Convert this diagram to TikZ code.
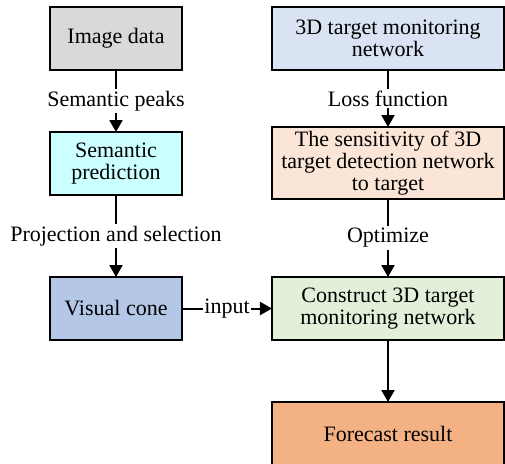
\documentclass[tikz,border=0pt]{standalone}
\usepackage{fontspec}
\setmainfont{Liberation Serif}
\usetikzlibrary{arrows.meta}
\definecolor{cgray}{HTML}{D9D9D9}
\definecolor{ccyan}{HTML}{CCFFFF}
\definecolor{cvis}{HTML}{B4C7E7}
\definecolor{cblue}{HTML}{DAE3F3}
\definecolor{cpeach}{HTML}{FBE5D6}
\definecolor{cgreen}{HTML}{E2F0D9}
\definecolor{corange}{HTML}{F4B183}
\tikzset{
  box/.style={draw=black, line width=1pt, inner sep=0pt, outer sep=0pt, align=center,
    font=\fontsize{11}{11}\selectfont},
  lbox/.style={box, minimum width=66pt, minimum height=31.5pt},
  rbox/.style={box, minimum width=116pt, minimum height=31.5pt},
  conn/.style={line width=1pt, -{Triangle[length=6pt,width=6.5pt]}},
  lab/.style={fill=white, inner sep=1pt, font=\fontsize{11}{11}\selectfont}
}
\begin{document}
\begin{tikzpicture}[x=0.5pt, y=-0.5pt]
\useasboundingbox (0,0) rectangle (505,463);
\begin{scope}
\clip (0,0) rectangle (505,463);
\node[lbox, fill=cgray] (img) at (116,38.5) {Image data};
\node[lbox, fill=ccyan] (sem) at (116,163.5) {Semantic\\prediction};
\node[lbox, fill=cvis] (vis) at (116,308.5) {Visual cone};
\node[rbox, fill=cblue] (net) at (388,38.5) {3D target monitoring\\network};
\node[rbox, fill=cpeach, minimum height=36pt] (sens) at (388,163) {The sensitivity of 3D\\target detection network\\to target};
\node[rbox, fill=cgreen] (cons) at (388,308.5) {Construct 3D target\\monitoring network};
\node[rbox, fill=corange] (fore) at (388,433.5) {Forecast result};
\end{scope}
\draw[conn] (img) -- node[lab] {Semantic peaks} (sem);
\draw[conn] (sem) -- node[lab] {Projection and selection} (vis);
\draw[conn] (net) -- node[lab] {Loss function} (sens);
\draw[conn] (sens) -- node[lab] {Optimize} (cons);
\draw[conn] (vis) -- node[lab, inner sep=0.5pt] {input} (cons);
\draw[conn] (cons) -- (fore);
\end{tikzpicture}
\end{document}
